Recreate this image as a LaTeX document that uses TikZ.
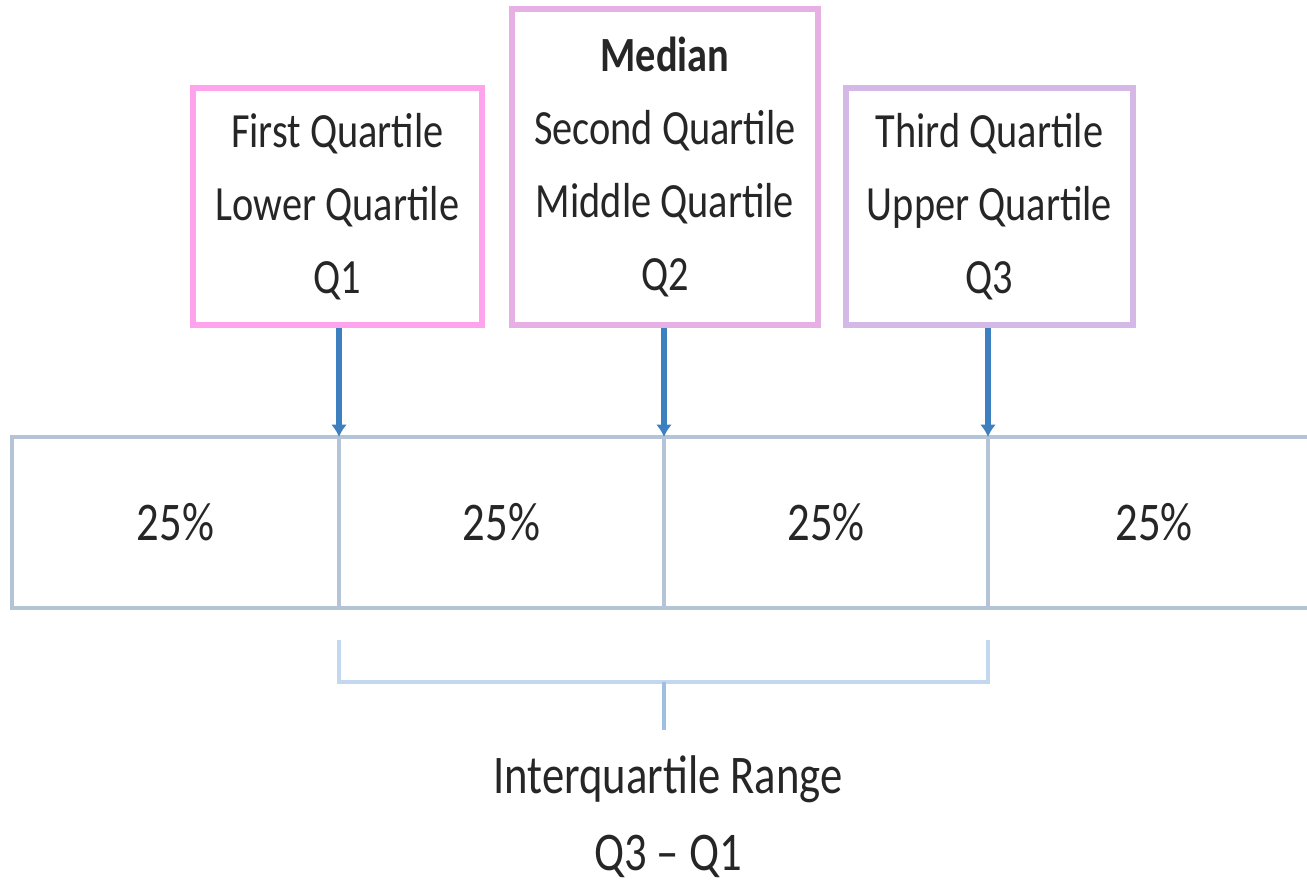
\documentclass[tikz,border=0pt]{standalone}
\usepackage{fontspec}
\setmainfont{Carlito}[FakeStretch=0.82]
\usetikzlibrary{arrows.meta,calc,positioning}
\definecolor{rosa}{HTML}{FFA3EC}
\definecolor{orquidea}{HTML}{E6B0E4}
\definecolor{lila}{HTML}{D4B8E6}
\definecolor{barra}{HTML}{B4C4D6}
\definecolor{azul}{HTML}{3D80BF}
\definecolor{celeste}{HTML}{C2D8EE}
\definecolor{texto}{HTML}{262626}
\tikzset{
  caja/.style={draw,line width=1.6pt,fill=white,align=center,text=texto,
    font=\fontsize{14}{20.8}\selectfont,minimum height=2.37cm},
  celda/.style={draw=barra,line width=1.4pt,outer sep=0pt,minimum height=1.71cm,
    text=texto,font=\fontsize{15.5}{18}\selectfont},
  flecha/.style={-{Latex[length=3.5pt,width=4.5pt]},line width=1.5pt,azul},
  llave/.style={line width=1.2pt,celeste}
}
\begin{document}
\begin{tikzpicture}
\useasboundingbox (0,0) rectangle (13.07,8.83);
% the four 25% cells
\node[celda,minimum width=3.27cm] (c1) at (1.755,3.605) {25\%};
\node[celda,minimum width=3.25cm,right=0pt of c1] (c2) {25\%};
\node[celda,minimum width=3.24cm,right=0pt of c2] (c3) {25\%};
\node[celda,minimum width=3.32cm,right=0pt of c3] (c4) {25\%};
% quartile boxes
\node[caja,draw=rosa,minimum width=2.89cm] (q1) at (3.375,6.765)
  {First Quartile\\Lower Quartile\\Q1};
\node[caja,draw=orquidea,minimum width=3.06cm,minimum height=3.16cm] (q2) at (6.65,7.16)
  {\textbf{Median}\\Second Quartile\\Middle Quartile\\Q2};
\node[caja,draw=lila,minimum width=2.87cm] (q3) at (9.895,6.765)
  {Third Quartile\\Upper Quartile\\Q3};
\draw[flecha] (c1.north east |- q1.south) -- (c1.north east);
\draw[flecha] (c2.north east |- q2.south) -- (c2.north east);
\draw[flecha] (c3.north east |- q3.south) -- (c3.north east);
% bracket under Q1..Q3
\coordinate (b1) at ($(c2.south west)+(0,-0.32)$);
\coordinate (b2) at ($(c3.south east)+(0,-0.32)$);
\draw[llave] (b1) -- ++(0,-0.42) coordinate (b1a) -- (b1a -| b2) -- (b2);
\node[text=texto,font=\fontsize{15.5}{21.8}\selectfont,align=center] (rango) at (6.68,0.665)
  {Interquartile Range\\Q3 -- Q1};
\draw[llave,color=azul!50] (c2.south east |- b1a) -- ++(0,-0.48);
\end{tikzpicture}
\end{document}
